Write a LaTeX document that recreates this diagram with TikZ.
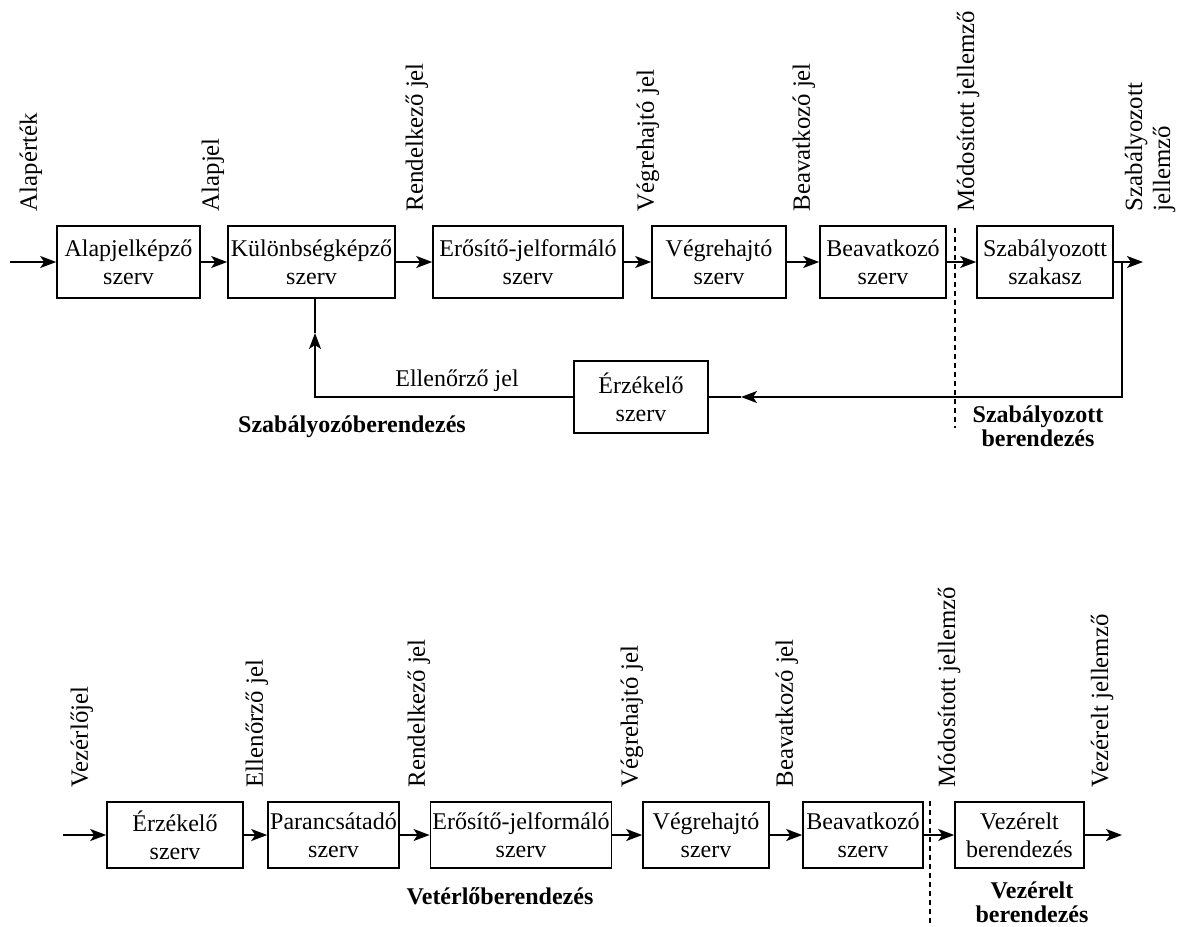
\documentclass[tikz,border=0pt]{standalone}
\usepackage{fontspec}
\setmainfont{Liberation Serif}
\usetikzlibrary{arrows.meta}
\begin{document}
\begin{tikzpicture}[x=0.5pt,y=-0.5pt,line width=0.8pt,
  font=\fontsize{12}{14}\selectfont,
  blokk/.style={draw,align=center,inner sep=1pt,minimum height=36pt},
  jel/.style={rotate=90,anchor=west,inner sep=0pt,align=left,font=\fontsize{12.4}{14}\selectfont},
  felirat/.style={font=\fontsize{12}{12}\selectfont\bfseries,align=center,inner sep=0pt},
  nyil/.style={-{Stealth[length=8pt,width=6pt,inset=2pt]}},
  hatar/.style={line width=0.6pt,dash pattern=on 2.5pt off 2pt}]
\useasboundingbox (0,0) rectangle (1186,926);

% szabalyozas
\node[blokk,minimum width=71.5pt] (alap) at (128.5,262) {Alapjelképző\\szerv};
\node[blokk,minimum width=83.5pt] (kul) at (311.5,262) {Különbségképző\\szerv};
\node[blokk,minimum width=95pt] (erosito) at (528,262) {Erősítő-jelformáló\\szerv};
\node[blokk,minimum width=67pt] (vegre) at (719,262) {Végrehajtó\\szerv};
\node[blokk,minimum width=63pt] (beav) at (883,262) {Beavatkozó\\szerv};
\node[blokk,minimum width=68pt] (szakasz) at (1045,262) {Szabályozott\\szakasz};
\node[blokk,minimum width=67pt] (erz) at (641,397) {Érzékelő\\szerv};
\coordinate (be1) at (10,262);
\coordinate (ki1) at (1143,262);
\coordinate (elag) at (1122,262);
\coordinate (nyil1) at (741,397);
\coordinate (nyil2) at (315,333);

\draw[nyil] (be1) -- (alap);
\draw[nyil] (alap) -- (kul);
\draw[nyil] (kul) -- (erosito);
\draw[nyil] (erosito) -- (vegre);
\draw[nyil] (vegre) -- (beav);
\draw[nyil] (beav) -- (szakasz);
\draw[nyil] (szakasz) -- (ki1);
\draw[nyil] (elag) |- (nyil1);
\draw (nyil1) -- (erz.east);
\draw[nyil] (erz.west) -| (nyil2);
\draw (nyil2) -- (nyil2 |- kul.south);
\draw[hatar] (955,228) -- (955,428);

\node[jel] (t1) at (31,212) {Alapérték};
\node[jel] (t2) at (213,212) {Alapjel};
\node[jel] (t3) at (417,212) {Rendelkező jel};
\node[jel] (t4) at (648,212) {Végrehajtó jel};
\node[jel] (t5) at (804,212) {Beavatkozó jel};
\node[jel] (t6) at (968,212) {Módosított jellemző};
\node[jel] (t7) at (1150,212) {Szabályozott\\jellemző};
\node[anchor=base,inner sep=0pt] (ell) at (457,386) {Ellenőrző jel};
\node[felirat,anchor=base] (szb) at (352,432) {Szabályozóberendezés};
\node[felirat,anchor=north] (szt) at (1038,405) {Szabályozott\\berendezés};

% vezerles
\node[blokk,minimum width=68pt,minimum height=33pt] (erz2) at (175,835) {Érzékelő\\szerv};
\node[blokk,minimum width=65.5pt,minimum height=33pt] (parancs) at (333.5,835) {Parancsátadó\\szerv};
\node[blokk,minimum width=90pt,minimum height=33pt] (erosito2) at (521,835) {Erősítő-jelformáló\\szerv};
\node[blokk,minimum width=63pt,minimum height=33pt] (vegre2) at (706,835) {Végrehajtó\\szerv};
\node[blokk,minimum width=60pt,minimum height=33pt] (beav2) at (863,835) {Beavatkozó\\szerv};
\node[blokk,minimum width=64.5pt,minimum height=33pt] (vezerelt) at (1019.5,835) {Vezérelt\\berendezés};
\coordinate (be2) at (63,835);
\coordinate (ki2) at (1122,835);

\draw[nyil] (be2) -- (erz2);
\draw[nyil] (erz2) -- (parancs);
\draw[nyil] (parancs) -- (erosito2);
\draw[nyil] (erosito2) -- (vegre2);
\draw[nyil] (vegre2) -- (beav2);
\draw[nyil] (beav2) -- (vezerelt);
\draw[nyil] (vezerelt) -- (ki2);
\draw[hatar] (930,801) -- (930,926);

\node[jel] (b1) at (82,788) {Vezérlőjel};
\node[jel] (b2) at (257,788) {Ellenőrző jel};
\node[jel] (b3) at (419,788) {Rendelkező jel};
\node[jel] (b4) at (632,788) {Végrehajtó jel};
\node[jel] (b5) at (787,788) {Beavatkozó jel};
\node[jel] (b6) at (949,788) {Módosított jellemző};
\node[jel] (b7) at (1102,788) {Vezérelt jellemző};
\node[felirat,anchor=base] (vb) at (500,904) {Vetérlőberendezés};
\node[felirat,anchor=north] (vzb) at (1032,881) {Vezérelt\\berendezés};
\end{tikzpicture}
\end{document}
